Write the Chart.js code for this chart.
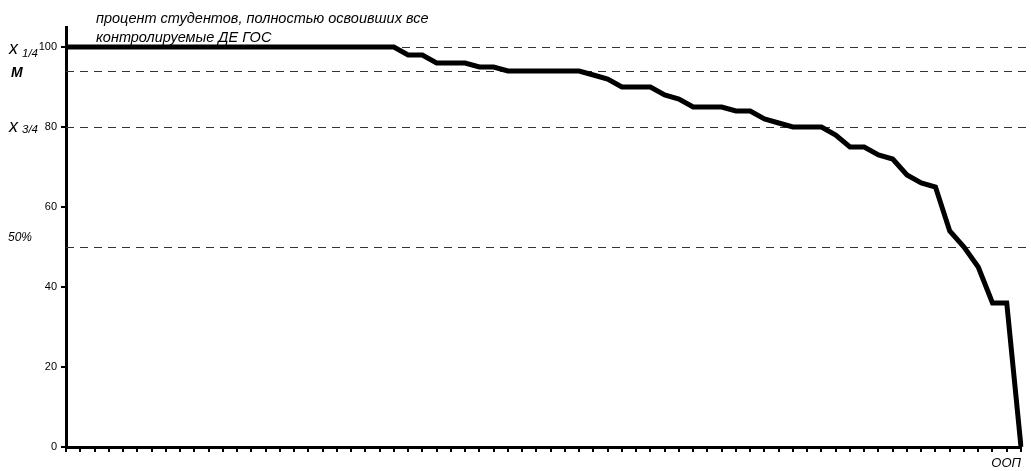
<!DOCTYPE html>
<html>
<head>
<meta charset="utf-8">
<script src="https://cdn.jsdelivr.net/npm/chart.js@4/dist/chart.umd.min.js"></script>
<style>
  html, body { margin: 0; padding: 0; background: #fff; }
  #wrap { width: 1031px; height: 471px; position: relative; }
</style>
</head>
<body>
<div id="wrap"><canvas id="chart"></canvas></div>
<script>
// categories (one per student group, labels are not shown)
const categories = ['1','2','3','4','5','6','7','8','9','10','11','12','13','14','15','16','17',
    '18','19','20','21','22','23','24','25','26','27','28','29','30','31','32','33','34',
    '35','36','37','38','39','40','41','42','43','44','45','46','47','48','49','50','51',
    '52','53','54','55','56','57','58','59','60','61','62','63','64','65','66','67','68'];

// percent of students who mastered all controlled DE
const percentValues = [100, 100, 100, 100, 100, 100, 100, 100, 100, 100, 100, 100,
    100, 100, 100, 100, 100, 100, 100, 100, 100, 100, 100, 100,
    98, 98, 96, 96, 96, 95, 95, 94, 94, 94, 94, 94, 94, 93, 92, 90, 90, 90,
    88, 87, 85, 85, 85, 84, 84, 82, 81, 80, 80, 80, 78, 75, 75, 73, 72, 68,
    66, 65, 54, 50, 45, 36, 36, 0];

// dashed reference levels and their captions
const refValues = [100, 94, 80, 50];
const refLabels = ['x 1/4', 'M', 'x 3/4', '50%'];

const yTicks = [0, 20, 40, 60, 80, 100];

const titleLines = ['процент студентов, полностью освоивших все', 'контролируемые ДЕ ГОС'];
const xTitle = 'ООП';

const FONT = '"Liberation Sans", Arial, sans-serif';

// draws dashed reference lines, left captions and the caption text
const refPlugin = {
    id: 'refLines',
    beforeDatasetsDraw(chart) {
        const ctx = chart.ctx;
        const y = chart.scales.y;
        const area = chart.chartArea;
        ctx.save();
        ctx.strokeStyle = '#333';
        ctx.lineWidth = 1;
        ctx.setLineDash([8, 6]);
        refValues.forEach(v => {
            const py = Math.round(y.getPixelForValue(v)) + 0.5;
            ctx.beginPath();
            ctx.moveTo(area.left, py);
            ctx.lineTo(chart.width, py);
            ctx.stroke();
        });
        ctx.restore();
    },
    afterDraw(chart) {
        const ctx = chart.ctx;
        const y = chart.scales.y;
        ctx.save();
        ctx.fillStyle = '#000';
        ctx.textBaseline = 'alphabetic';
        ctx.textAlign = 'left';

        // x 1/4 and x 3/4
        const shifts = { 0: [7, 10], 2: [5, 6] };
        [0, 2].forEach(i => {
            const py = y.getPixelForValue(refValues[i]);
            const parts = refLabels[i].split(' ');
            ctx.font = 'italic 18px ' + FONT;
            ctx.fillText(parts[0], 9, py + shifts[i][0]);
            ctx.font = 'italic 11.5px ' + FONT;
            ctx.fillText(parts[1], 22, py + shifts[i][1]);
        });

        // M
        ctx.font = 'bold italic 14px ' + FONT;
        ctx.fillText(refLabels[1], 11, y.getPixelForValue(refValues[1]) + 6);

        // 50%
        ctx.font = 'italic 12px ' + FONT;
        ctx.fillText(refLabels[3], 8, y.getPixelForValue(refValues[3]) - 6);

        // caption
        ctx.font = 'italic 14.5px ' + FONT;
        ctx.fillText(titleLines[0], 96, 23);
        ctx.fillText(titleLines[1], 96, 42);
        ctx.restore();
    }
};

const ctx = document.getElementById('chart').getContext('2d');
const chart = new Chart(ctx, {
    type: 'line',
    data: {
        labels: categories,
        datasets: [{
            data: percentValues,
            borderColor: '#000',
            borderWidth: 5,
            pointRadius: 0,
            tension: 0,
            fill: false
        }]
    },
    options: {
        responsive: true,
        maintainAspectRatio: false,
        animation: false,
        events: [],
        layout: {
            padding: { top: 27, right: 10, left: 0, bottom: 0 }
        },
        plugins: {
            legend: { display: false },
            tooltip: { enabled: false }
        },
        scales: {
            x: {
                type: 'category',
                offset: false,
                border: { display: true, color: '#000', width: 3 },
                grid: {
                    display: true,
                    drawOnChartArea: false,
                    drawTicks: true,
                    tickLength: 5,
                    color: '#000',
                    lineWidth: 2
                },
                ticks: {
                    autoSkip: false,
                    maxRotation: 0,
                    callback: () => '',
                    padding: 0
                },
                title: {
                    display: true,
                    text: xTitle,
                    align: 'end',
                    color: '#000',
                    font: { family: FONT, size: 13, style: 'italic' },
                    padding: { top: 0, bottom: 0 }
                },
                afterFit(scale) { scale.height = 24; }
            },
            y: {
                min: 0,
                max: 105,
                border: { display: true, color: '#000', width: 3 },
                grid: {
                    display: true,
                    drawOnChartArea: false,
                    drawTicks: true,
                    tickLength: 5,
                    color: '#000',
                    lineWidth: 2
                },
                ticks: {
                    stepSize: 20,
                    padding: 4,
                    color: '#000',
                    font: { family: FONT, size: 11 }
                },
                afterBuildTicks(scale) {
                    scale.ticks = yTicks.map(v => ({ value: v }));
                },
                afterFit(scale) { scale.width = 66; }
            }
        }
    },
    plugins: [refPlugin]
});
</script>
</body>
</html>
